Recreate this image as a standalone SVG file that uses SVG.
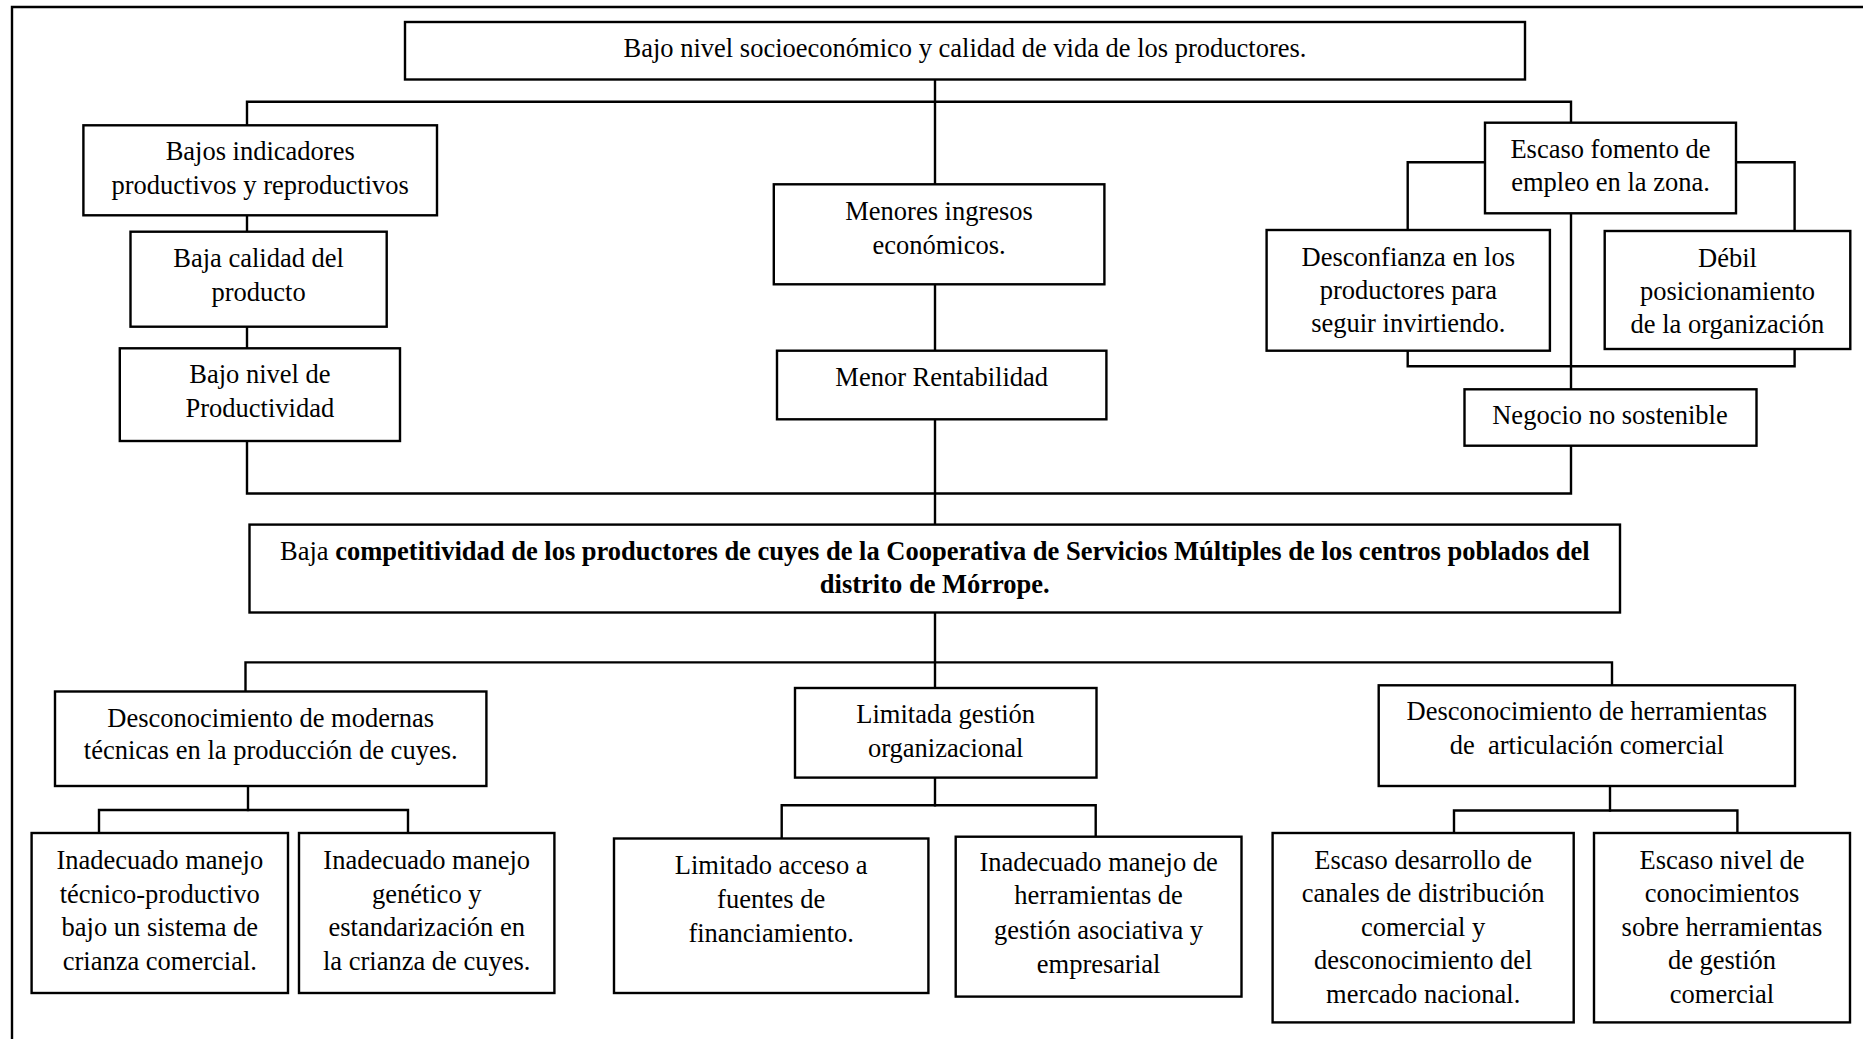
<svg xmlns="http://www.w3.org/2000/svg" width="1863" height="1039" viewBox="0 0 1863 1039">
  <style>
    .box { fill: #ffffff; stroke: #000000; stroke-width: 2.4; }
    .wire { fill: none; stroke: #000000; stroke-width: 2.4; stroke-linecap: square; }
    .frame { fill: none; stroke: #000000; stroke-width: 2.4; }
    text { font-family: "Liberation Serif", "Times New Roman", serif; font-size: 26.5px; fill: #000000; text-anchor: middle; }
    .b { font-weight: bold; }
  </style>

  <rect x="0" y="0" width="1863" height="1039" fill="#ffffff"/>

  <!-- page frame: top and left edges only -->
  <path class="frame" d="M12,1039 V7 H1863"/>

  <!-- connectors -->
  <g id="connectors">
    <!-- effects tree -->
    <path class="wire" d="M935,79.5 V184.3"/>
    <path class="wire" d="M247,125.3 V101.7 H1571 V122.7"/>
    <path class="wire" d="M247,215.3 V231.7"/>
    <path class="wire" d="M247,326.7 V348.3"/>
    <path class="wire" d="M247,441 V493.5 H1571 V445.7"/>
    <path class="wire" d="M935,284.3 V350.7"/>
    <path class="wire" d="M935,419.3 V524.6"/>
    <path class="wire" d="M1571,213.3 V389.3"/>
    <path class="wire" d="M1485,162.3 H1407.7 V230"/>
    <path class="wire" d="M1736,162.3 H1794.6 V231"/>
    <path class="wire" d="M1407.7,350.7 V366.3 H1794.6 V349"/>
    <!-- causes tree -->
    <path class="wire" d="M935,612.5 V688"/>
    <path class="wire" d="M245.5,691.5 V662.4 H1612 V685.3"/>
    <path class="wire" d="M248,786 V810"/>
    <path class="wire" d="M99,833 V810 H408 V833"/>
    <path class="wire" d="M935,777.6 V805.3"/>
    <path class="wire" d="M781.7,838.5 V805.3 H1095.7 V836.7"/>
    <path class="wire" d="M1610,786 V810.5"/>
    <path class="wire" d="M1454,833 V810.5 H1737.4 V833"/>
  </g>

  <!-- effects -->
  <g id="n-efecto-final">
    <rect class="box" x="405" y="22" width="1120" height="57.5"/>
    <text x="965" y="57.3">Bajo nivel socioeconómico y calidad de vida de los productores.</text>
  </g>
  <g id="n-bajos-indicadores">
    <rect class="box" x="83.4" y="125.3" width="353.6" height="90"/>
    <text x="260.2" y="160">Bajos indicadores</text>
    <text x="260.2" y="193.5">productivos y reproductivos</text>
  </g>
  <g id="n-baja-calidad">
    <rect class="box" x="130.5" y="231.7" width="256.2" height="95"/>
    <text x="258.6" y="266.7">Baja calidad del</text>
    <text x="258.6" y="300.5">producto</text>
  </g>
  <g id="n-bajo-nivel">
    <rect class="box" x="119.8" y="348.3" width="280.2" height="92.7"/>
    <text x="259.9" y="383.3">Bajo nivel de</text>
    <text x="259.9" y="416.8">Productividad</text>
  </g>
  <g id="n-menores-ingresos">
    <rect class="box" x="773.8" y="184.3" width="330.6" height="100"/>
    <text x="939.1" y="220">Menores ingresos</text>
    <text x="939.1" y="254.3">económicos.</text>
  </g>
  <g id="n-menor-rentabilidad">
    <rect class="box" x="777" y="350.7" width="329.4" height="68.6"/>
    <text x="941.7" y="385.7">Menor Rentabilidad</text>
  </g>
  <g id="n-escaso-fomento">
    <rect class="box" x="1485" y="122.7" width="251" height="90.6"/>
    <text x="1610.5" y="158.3">Escaso fomento de</text>
    <text x="1610.5" y="190.7">empleo en la zona.</text>
  </g>
  <g id="n-desconfianza">
    <rect class="box" x="1266.6" y="230" width="283.3" height="120.7"/>
    <text x="1408.3" y="265.7">Desconfianza en los</text>
    <text x="1408.3" y="298.5">productores para</text>
    <text x="1408.3" y="332.3">seguir invirtiendo.</text>
  </g>
  <g id="n-debil-posicionamiento">
    <rect class="box" x="1604.7" y="231" width="245.6" height="118"/>
    <text x="1727.5" y="266.7">Débil</text>
    <text x="1727.5" y="300">posicionamiento</text>
    <text x="1727.5" y="333.3">de la organización</text>
  </g>
  <g id="n-negocio">
    <rect class="box" x="1464.5" y="389.3" width="292" height="56.4"/>
    <text x="1610" y="424.3">Negocio no sostenible</text>
  </g>

  <!-- central problem -->
  <g id="n-problema-central">
    <rect class="box" x="249.5" y="524.6" width="1370.5" height="87.9"/>
    <text x="934.8" y="559.7">Baja <tspan class="b">competitividad de los productores de cuyes de la Cooperativa de Servicios Múltiples de los centros poblados del</tspan></text>
    <text class="b" x="934.8" y="593">distrito de Mórrope.</text>
  </g>

  <!-- causes -->
  <g id="n-desconocimiento-tecnicas">
    <rect class="box" x="55" y="691.5" width="431.4" height="94.5"/>
    <text x="270.7" y="726.6">Desconocimiento de modernas</text>
    <text x="270.7" y="759">técnicas en la producción de cuyes.</text>
  </g>
  <g id="n-manejo-tecnico">
    <rect class="box" x="31.6" y="833" width="256.4" height="160"/>
    <text x="159.8" y="869.2">Inadecuado manejo</text>
    <text x="159.8" y="902.5">técnico-productivo</text>
    <text x="159.8" y="936.2">bajo un sistema de</text>
    <text x="159.8" y="969.6">crianza comercial.</text>
  </g>
  <g id="n-manejo-genetico">
    <rect class="box" x="299" y="833" width="255.4" height="160"/>
    <text x="426.7" y="869.2">Inadecuado manejo</text>
    <text x="426.7" y="902.5">genético y</text>
    <text x="426.7" y="936.2">estandarización en</text>
    <text x="426.7" y="969.6">la crianza de cuyes.</text>
  </g>
  <g id="n-limitada-gestion">
    <rect class="box" x="795" y="688" width="301.5" height="89.6"/>
    <text x="945.7" y="723">Limitada gestión</text>
    <text x="945.7" y="756.5">organizacional</text>
  </g>
  <g id="n-limitado-acceso">
    <rect class="box" x="614" y="838.5" width="314.4" height="154.5"/>
    <text x="771.2" y="873.6">Limitado acceso a</text>
    <text x="771.2" y="908">fuentes de</text>
    <text x="771.2" y="942">financiamiento.</text>
  </g>
  <g id="n-herramientas-gestion">
    <rect class="box" x="955.7" y="836.7" width="285.8" height="159.9"/>
    <text x="1098.6" y="870.6">Inadecuado manejo de</text>
    <text x="1098.6" y="904.2">herramientas de</text>
    <text x="1098.6" y="938.6">gestión asociativa y</text>
    <text x="1098.6" y="972.6">empresarial</text>
  </g>
  <g id="n-articulacion-comercial">
    <rect class="box" x="1378.7" y="685.3" width="416.3" height="100.7"/>
    <text x="1586.9" y="720.3">Desconocimiento de herramientas</text>
    <text x="1586.9" y="753.6" style="white-space:pre">de  articulación comercial</text>
  </g>
  <g id="n-canales-distribucion">
    <rect class="box" x="1272.6" y="833" width="301.1" height="189.4"/>
    <text x="1423.2" y="869.2">Escaso desarrollo de</text>
    <text x="1423.2" y="902.3">canales de distribución</text>
    <text x="1423.2" y="935.6">comercial y</text>
    <text x="1423.2" y="968.9">desconocimiento del</text>
    <text x="1423.2" y="1002.6">mercado nacional.</text>
  </g>
  <g id="n-conocimientos-comerciales">
    <rect class="box" x="1594" y="833" width="256" height="189.4"/>
    <text x="1722" y="869.2">Escaso nivel de</text>
    <text x="1722" y="902.3">conocimientos</text>
    <text x="1722" y="935.6">sobre herramientas</text>
    <text x="1722" y="968.9">de gestión</text>
    <text x="1722" y="1002.6">comercial</text>
  </g>
</svg>
